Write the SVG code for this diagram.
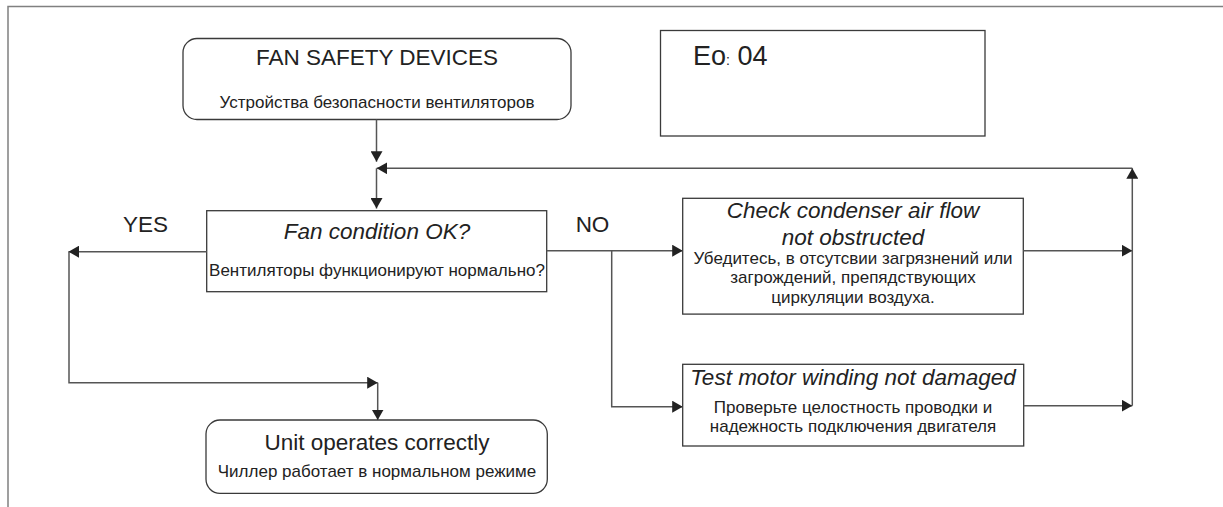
<svg xmlns="http://www.w3.org/2000/svg" width="1223" height="507" viewBox="0 0 1223 507">
<defs>
<style>
.box{fill:#fff;stroke:#3a3a3a;stroke-width:1.3}
.ln{fill:none;stroke:#555;stroke-width:1.5}
.frame{fill:none;stroke:#808080;stroke-width:1.5}
.t{font-family:"Liberation Sans",Arial,sans-serif;fill:#222;text-anchor:middle}
.big{font-size:22.5px}
.it{font-size:22.5px;font-style:italic}
.ru{font-size:17px}
</style>
<marker id="ah" markerUnits="userSpaceOnUse" markerWidth="11" markerHeight="12" refX="10.5" refY="6" orient="auto">
<path d="M0,0 L10.5,6 L0,12 z" fill="#222"/>
</marker>
</defs>
<rect width="1223" height="507" fill="#fff"/>
<path class="frame" d="M8,507 V6.5 H1223"/>

<g id="start">
<rect class="box" x="183" y="38.5" width="388" height="81" rx="14"/>
<text class="t big" x="377" y="65">FAN SAFETY DEVICES</text>
<text class="t ru" x="377" y="107.5">Устройства безопасности вентиляторов</text>
</g>

<g id="code">
<rect class="box" x="660.5" y="30.5" width="324.5" height="105.5"/>
<text x="693" y="65" style="font-family:'Liberation Sans',Arial,sans-serif;font-size:27px;fill:#222">Eo<tspan font-size="14">:</tspan> 04</text>
</g>

<g id="decision">
<rect class="box" x="206.7" y="210.7" width="340" height="81"/>
<text class="t it" x="377" y="239">Fan condition OK?</text>
<text class="t ru" x="377" y="276">Вентиляторы функционируют нормально?</text>
</g>

<g id="check">
<rect class="box" x="682.7" y="198.3" width="340.6" height="115.8"/>
<text class="t it" x="853" y="218.3">Check condenser air flow</text>
<text class="t it" x="853" y="245">not obstructed</text>
<text class="t ru" x="853" y="263.5">Убедитесь, в отсутсвии загрязнений или</text>
<text class="t ru" x="853" y="283.3">загрождений, препядствующих</text>
<text class="t ru" x="853" y="302.8">циркуляции воздуха.</text>
</g>

<g id="test">
<rect class="box" x="682.7" y="364.3" width="341" height="81.7"/>
<text class="t it" x="853" y="385">Test motor winding not damaged</text>
<text class="t ru" x="853" y="413.3">Проверьте целостность проводки и</text>
<text class="t ru" x="853" y="431.8">надежность подключения двигателя</text>
</g>

<g id="end">
<rect class="box" x="206" y="420" width="341.3" height="73.3" rx="14"/>
<text class="t big" x="377" y="450">Unit operates correctly</text>
<text class="t ru" x="377" y="477.3">Чиллер работает в нормальном режиме</text>
</g>

<g id="labels">
<text class="t big" x="145.5" y="232.3">YES</text>
<text class="t big" x="592.5" y="232.3">NO</text>
</g>

<g id="connectors">
<path class="ln" d="M376.5,119.5 V161.7" marker-end="url(#ah)"/>
<path class="ln" d="M1132.3,168.3 H376.7" marker-end="url(#ah)"/>
<path class="ln" d="M376.5,168.3 V208.5" marker-end="url(#ah)"/>
<path class="ln" d="M206.7,251.7 H68.5" marker-end="url(#ah)"/>
<path class="ln" d="M69,251.7 V382.7 H377.7" marker-end="url(#ah)"/>
<path class="ln" d="M377.7,382.7 V420" marker-end="url(#ah)"/>
<path class="ln" d="M546.7,250.7 H682.7" marker-end="url(#ah)"/>
<path class="ln" d="M611.7,250.7 V406.7 H682.7" marker-end="url(#ah)"/>
<path class="ln" d="M1023.3,250.7 H1132.3" marker-end="url(#ah)"/>
<path class="ln" d="M1023.7,405.7 H1132.3" marker-end="url(#ah)"/>
<path class="ln" d="M1132.3,405.7 V168.3" marker-end="url(#ah)"/>
</g>
</svg>
